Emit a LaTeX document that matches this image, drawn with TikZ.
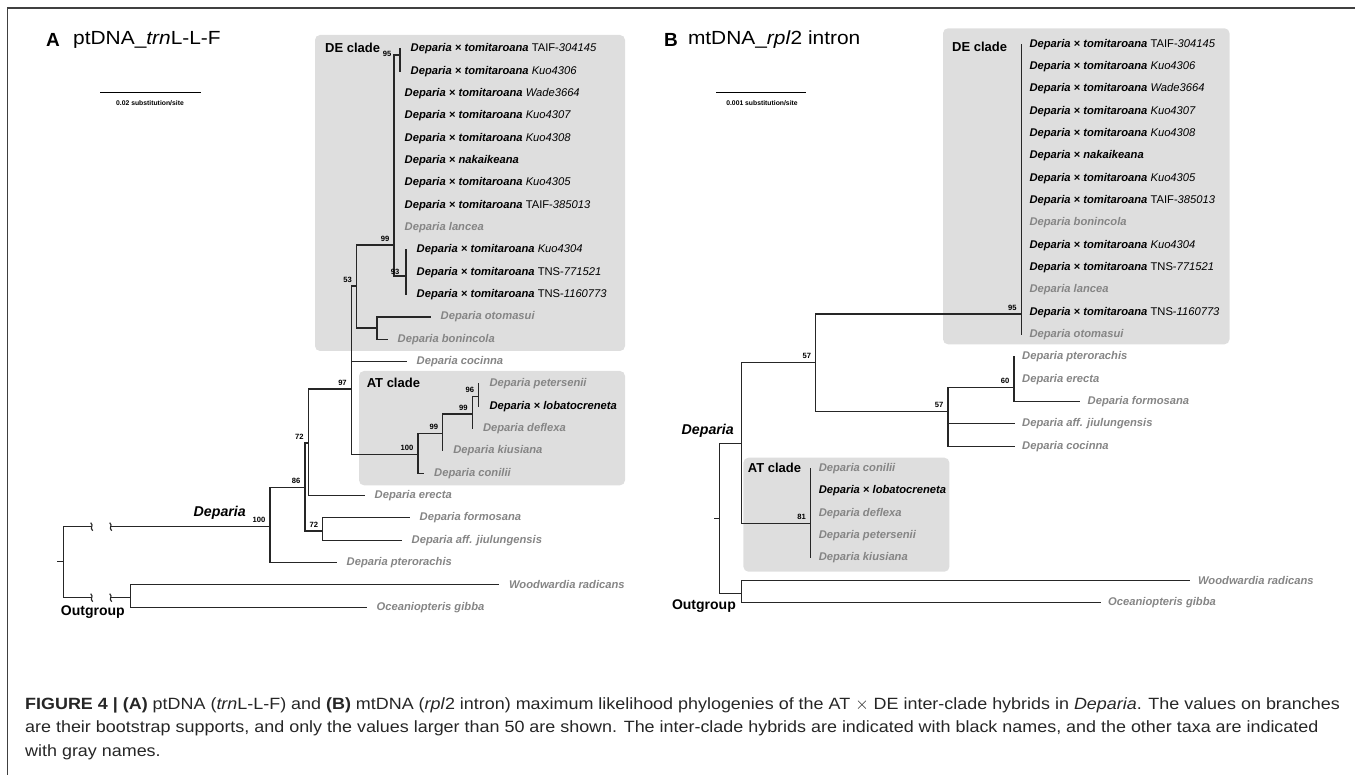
\documentclass[tikz,border=0pt]{standalone}
\usepackage{fontspec}
\setmainfont{Liberation Sans}
\newfontfamily\widefont[FakeStretch=1.1]{Liberation Sans}
\newcommand{\dxt}[2]{Deparia × tomitaroana {\mdseries\upshape #1}{\mdseries #2}}
\begin{document}
\begin{tikzpicture}[x=1pt,y=-1pt,line cap=rect,
  br/.style={line width=1.15pt,black!85},
  tx/.style={anchor=west,inner xsep=\tipgap,inner ysep=1pt,font=\fontsize{11.2}{13}\selectfont\bfseries\itshape},
  gr/.style={tx,text=black!48},
  bs/.style={font=\fontsize{7.6}{8}\selectfont\bfseries,inner sep=0pt,anchor=south east,xshift=-4.5pt,yshift=3.5pt},
  clade/.style={fill=black!13,rounded corners=5pt},
  cl/.style={font=\fontsize{13}{14}\selectfont\bfseries,inner sep=0pt},
  dep/.style={font=\fontsize{14.2}{16}\selectfont\bfseries\itshape,inner sep=0pt},
  og/.style={font=\fontsize{14}{16}\selectfont\bfseries,inner sep=0pt},
  ttl/.style={font=\widefont\fontsize{19}{22}\selectfont,inner sep=0pt,anchor=west},
  sb/.style={font=\fontsize{6.8}{8}\selectfont\bfseries,inner sep=0pt}]
  \useasboundingbox (0,0) rectangle (1355,775);
  % ramecek
  \draw[line width=1.3pt,black!75] (7.5,775) -- (7.5,8) -- (1355,8);
  % zlom vetve
  \def\zlom#1{\draw[br,line cap=butt] ([xshift=-1pt,yshift=4pt]#1) .. controls ([xshift=2.5pt,yshift=1pt]#1) and ([xshift=-2.5pt,yshift=-1pt]#1) .. ([xshift=1pt,yshift=-4pt]#1);}

  % ===== A: ptDNA =====
  \node[ttl,font=\fontsize{19}{22}\selectfont\bfseries] (aA) at (46,39.5) {A};
  \node[ttl] (aTitle) at (73,39.5) {ptDNA\_\textit{trn}L-L-F};
  \coordinate (aS1) at (100,92.7); \coordinate (aS2) at (200,92.7);
  \draw[line width=1pt] (aS1) -- (aS2);
  \node[sb] (aSL) at (150,102.7) {0.02 substitution/site};
  % sede ramecky kladu
  \fill[clade] (315,35) rectangle (625,351);
  \fill[clade] (359,371) rectangle (625,485.3);
  \node[cl,anchor=west] (aDE) at (325,48.3) {DE clade};
  \node[cl,anchor=west] (aATl) at (366.6,383.3) {AT clade};
  % listy
  \def\tipgap{10.5pt}
  \node[tx] (aT0) at (400,49) {\dxt{TAIF-}{304145}};
  \node[tx] (aT1) at (400,71.3) {\dxt{}{Kuo4306}};
  \node[tx] (aT2) at (394,93.7) {\dxt{}{Wade3664}};
  \node[tx] (aT3) at (394,116) {\dxt{}{Kuo4307}};
  \node[tx] (aT4) at (394,138.3) {\dxt{}{Kuo4308}};
  \node[tx] (aT5) at (394,160.7) {Deparia × nakaikeana};
  \node[tx] (aT6) at (394,183) {\dxt{}{Kuo4305}};
  \node[tx] (aT7) at (394,205.3) {\dxt{TAIF-}{385013}};
  \node[gr] (aT8) at (394,227.6) {Deparia lancea};
  \node[tx] (aT9) at (406,250) {\dxt{}{Kuo4304}};
  \node[tx] (aT10) at (406,272.3) {\dxt{TNS-}{771521}};
  \node[tx] (aT11) at (406,294.6) {\dxt{TNS-}{1160773}};
  \node[gr] (aT12) at (430,317) {Deparia otomasui};
  \node[gr] (aT13) at (387,339.3) {Deparia bonincola};
  \node[gr] (aT14) at (406,361.6) {Deparia cocinna};
  \node[gr] (aT15) at (478.8,384) {Deparia petersenii};
  \node[tx] (aT16) at (478.8,406.3) {Deparia × lobatocreneta};
  \node[gr] (aT17) at (472.3,428.6) {Deparia deflexa};
  \node[gr] (aT18) at (442.7,450.9) {Deparia kiusiana};
  \node[gr] (aT19) at (423.5,473.3) {Deparia conilii};
  \node[gr] (aT20) at (364,495.6) {Deparia erecta};
  \node[gr] (aT21) at (409,517.9) {Deparia formosana};
  \node[gr] (aT22) at (401,540.3) {Deparia aff. jiulungensis};
  \node[gr] (aT23) at (336,562.6) {Deparia pterorachis};
  \node[gr] (aT24) at (498.4,584.9) {Woodwardia radicans};
  \node[gr] (aT25) at (366,607.3) {Oceaniopteris gibba};
  % vnitrni uzly
  \coordinate (aRoot) at (63.3,561.7); \coordinate (aStub) at (57.3,561.7);
  \coordinate (aZ1) at (91.7,526.7); \coordinate (aZ2) at (110.7,526.7);
  \coordinate (aZ3) at (91.7,597.7); \coordinate (aZ4) at (110.7,597.7);
  \coordinate (aDep) at (270,526.7); \coordinate (aOut) at (130.7,597.7);
  \coordinate (a86) at (305,487.3); \coordinate (a72) at (308.3,443);
  \coordinate (a72b) at (322.7,531); \coordinate (a97) at (351.4,389);
  \coordinate (a53) at (356.6,286); \coordinate (a99) at (394,245);
  \coordinate (a95) at (400,55); \coordinate (a93) at (406,276);
  \coordinate (aOB) at (377,328); \coordinate (aAT) at (418,454.3);
  \coordinate (a99a) at (442.7,433.3); \coordinate (a99b) at (472.3,414);
  \coordinate (a96) at (478.8,396.7);
  % vetve
  \draw[br] (aStub) -- (aRoot);
  \draw[br] (aZ1) -| (aRoot) |- (aZ3);
  \draw[br] (aZ2) -- (aDep); \draw[br] (aZ4) -- (aOut);
  \zlom{aZ1} \zlom{aZ2} \zlom{aZ3} \zlom{aZ4}
  \draw[br] (aDep) |- (a86); \draw[br] (aDep) |- (aT23.west);
  \draw[br] (a86) |- (a72); \draw[br] (a86) |- (a72b);
  \draw[br] (a72) |- (a97); \draw[br] (a72) |- (aT20.west);
  \draw[br] (a72b) |- (aT21.west); \draw[br] (a72b) |- (aT22.west);
  \draw[br] (a97) |- (a53); \draw[br] (a97) |- (aT14.west); \draw[br] (a97) |- (aAT);
  \draw[br] (a53) |- (a99); \draw[br] (a53) |- (aOB);
  \draw[br] (a99) |- (a95); \draw[br] (a99) |- (a93);
  \draw[br] (aT0.west) -- (aT1.west);
  \draw[br] (aT9.west) -- (aT11.west);
  \draw[br] (aOB) |- (aT12.west); \draw[br] (aOB) |- (aT13.west);
  \draw[br] (aAT) |- (a99a); \draw[br] (aAT) |- (aT19.west);
  \draw[br] (a99a) |- (a99b); \draw[br] (a99a) |- (aT18.west);
  \draw[br] (a99b) |- (a96); \draw[br] (a99b) |- (aT17.west);
  \draw[br] (aT15.west) -- (aT16.west);
  \draw[br] (aOut) |- (aT24.west); \draw[br] (aOut) |- (aT25.west);
  % bootstrap
  \node[bs] (aB100) at (aDep) {100};
  \node[bs] (aB86) at (a86) {86};
  \node[bs] (aB72) at (a72) {72};
  \node[bs] (aB72b) at (a72b) {72};
  \node[bs] (aB97) at (a97) {97};
  \node[bs] (aB53) at (a53) {53};
  \node[bs] (aB99) at (a99) {99};
  \node[bs,anchor=center,xshift=0pt,yshift=0pt] (aB95) at (391.5,57) {95};
  \node[bs,anchor=center,xshift=0pt,yshift=0pt] (aB93) at (399.5,275) {93};
  \node[bs] (aBat) at (aAT) {100};
  \node[bs] (aB99a) at (a99a) {99};
  \node[bs] (aB99b) at (a99b) {99};
  \node[bs] (aB96) at (a96) {96};
  \node[dep,anchor=east] (aDepL) at (246,513.3) {Deparia};
  \node[og,anchor=west] (aOutL) at (60.7,611.7) {Outgroup};

  % ===== B: mtDNA =====
  \node[ttl,font=\fontsize{19}{22}\selectfont\bfseries] (bB) at (664,39.5) {B};
  \node[ttl] (bTitle) at (687.8,39.5) {mtDNA\_\textit{rpl}2 intron};
  \coordinate (bS1) at (716.6,92.7); \coordinate (bS2) at (805,92.7);
  \draw[line width=1pt] (bS1) -- (bS2);
  \node[sb] (bSL) at (762,102.7) {0.001 substitution/site};
  \fill[clade] (943,28.3) rectangle (1229.5,344.3);
  \fill[clade] (743.4,457.7) rectangle (949.4,571.7);
  \node[cl,anchor=west] (bDE) at (952,47.3) {DE clade};
  \node[cl,anchor=west] (bATl) at (747.7,467.7) {AT clade};
  \def\tipgap{8pt}
  \node[tx] (bT0) at (1021.3,44.3) {\dxt{TAIF-}{304145}};
  \node[tx] (bT1) at (1021.3,66.6) {\dxt{}{Kuo4306}};
  \node[tx] (bT2) at (1021.3,89) {\dxt{}{Wade3664}};
  \node[tx] (bT3) at (1021.3,111.3) {\dxt{}{Kuo4307}};
  \node[tx] (bT4) at (1021.3,133.6) {\dxt{}{Kuo4308}};
  \node[tx] (bT5) at (1021.3,156) {Deparia × nakaikeana};
  \node[tx] (bT6) at (1021.3,178.3) {\dxt{}{Kuo4305}};
  \node[tx] (bT7) at (1021.3,200.6) {\dxt{TAIF-}{385013}};
  \node[gr] (bT8) at (1021.3,222.9) {Deparia bonincola};
  \node[tx] (bT9) at (1021.3,245.3) {\dxt{}{Kuo4304}};
  \node[tx] (bT10) at (1021.3,267.6) {\dxt{TNS-}{771521}};
  \node[gr] (bT11) at (1021.3,289.9) {Deparia lancea};
  \node[tx] (bT12) at (1021.3,312.3) {\dxt{TNS-}{1160773}};
  \node[gr] (bT13) at (1021.3,334.6) {Deparia otomasui};
  \node[gr] (bT14) at (1014,356.9) {Deparia pterorachis};
  \node[gr] (bT15) at (1014,379.3) {Deparia erecta};
  \node[gr] (bT16) at (1079.5,401.6) {Deparia formosana};
  \node[gr] (bT17) at (1014,423.9) {Deparia aff. jiulungensis};
  \node[gr] (bT18) at (1014,446.2) {Deparia cocinna};
  \node[gr] (bT19) at (810.6,468.6) {Deparia conilii};
  \node[tx] (bT20) at (810.6,490.9) {Deparia × lobatocreneta};
  \node[gr] (bT21) at (810.6,513.2) {Deparia deflexa};
  \node[gr] (bT22) at (810.6,535.6) {Deparia petersenii};
  \node[gr] (bT23) at (810.6,557.9) {Deparia kiusiana};
  \node[gr] (bT24) at (1189.9,580.2) {Woodwardia radicans};
  \node[gr] (bT25) at (1100,602.6) {Oceaniopteris gibba};
  \coordinate (bRoot) at (719.7,518.3); \coordinate (bStub) at (714.5,518.3);
  \coordinate (bDep) at (741.6,443.3); \coordinate (bOut) at (741.6,593.3);
  \coordinate (b57a) at (815.8,362.7); \coordinate (b95) at (1021.3,314);
  \coordinate (b57b) at (948,411.7); \coordinate (b60) at (1014,387.3);
  \coordinate (b81) at (810.6,523.3);
  \draw[br] (bStub) -- (bRoot);
  \draw[br] (bRoot) |- (bDep); \draw[br] (bRoot) |- (bOut);
  \draw[br] (bDep) |- (b57a); \draw[br] (bDep) |- (b81);
  \draw[br] (b57a) |- (b95); \draw[br] (b57a) |- (b57b);
  \draw[br] (bT0.west) -- (bT13.west);
  \draw[br] (b57b) |- (b60); \draw[br] (b57b) |- (bT17.west); \draw[br] (b57b) |- (bT18.west);
  \draw[br] (b60) |- (bT14.west); \draw[br] (b60) |- (bT16.west);
  \draw[br] (bT19.west) -- (bT23.west);
  \draw[br] (bOut) |- (bT24.west); \draw[br] (bOut) |- (bT25.west);
  \node[bs] (bB95) at (b95) {95};
  \node[bs] (bB57a) at (b57a) {57};
  \node[bs] (bB57b) at (b57b) {57};
  \node[bs] (bB60) at (b60) {60};
  \node[bs] (bB81) at (b81) {81};
  \node[dep,anchor=east] (bDepL) at (734,431) {Deparia};
  \node[og,anchor=east] (bOutL) at (736,606) {Outgroup};

  % popisek obrazku
  \node[anchor=north west,align=left,inner sep=0pt,text=black!85,
        font=\widefont\fontsize{16.3}{23.7}\selectfont] (capt) at (25,697)
  {\textbf{FIGURE 4 | (A)} ptDNA (\textit{trn}L-L-F) and \textbf{(B)} mtDNA (\textit{rpl}2 intron) maximum likelihood phylogenies of the AT $\times$ DE inter-clade hybrids in \textit{Deparia}. The values on branches\\
   are their bootstrap supports, and only the values larger than 50 are shown. The inter-clade hybrids are indicated with black names, and the other taxa are indicated\\
   with gray names.};
\end{tikzpicture}
\end{document}
